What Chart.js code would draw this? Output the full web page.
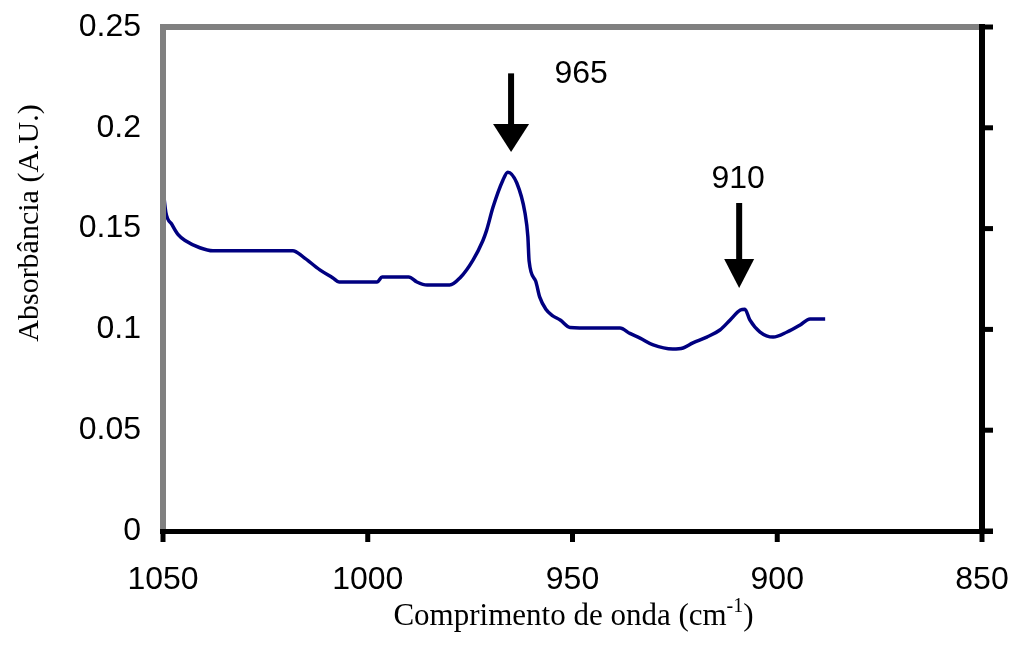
<!DOCTYPE html>
<html>
<head>
<meta charset="utf-8">
<script src="https://cdn.jsdelivr.net/npm/chart.js@4.4.1/dist/chart.umd.min.js"></script>
<style>
html,body{margin:0;padding:0;background:#fff;}
#wrap{width:1013px;height:650px;}
</style>
</head>
<body>
<div id="wrap"><canvas id="c" width="1013" height="650"></canvas></div>
<script>
// Wavenumber (cm-1) and absorbance
const wavenumbers = [1050, 1049.3, 1047.8, 1046.3, 1044.5, 1041, 1037.8, 1030, 1024, 1018.3, 1015.8, 1011.7, 1008.5, 1007, 1002, 997.7, 996.5, 990, 988, 985.5, 980, 977.5, 974.3, 971.9, 971, 969.4, 967, 965.8, 963.6, 961.6, 960.9, 960.6, 959, 958, 956.5, 955, 953, 950.6, 945, 938.4, 936, 933.5, 930.3, 925.5, 923, 920.6, 917.2, 914, 911.5, 909, 907.9, 906.7, 904.2, 901, 897.6, 894.4, 892, 888.3];
const absorbance = [0.170, 0.158, 0.152, 0.147, 0.144, 0.1405, 0.139, 0.139, 0.139, 0.139, 0.136, 0.1295, 0.1255, 0.1235, 0.1235, 0.1235, 0.126, 0.126, 0.1235, 0.122, 0.122, 0.1255, 0.1344, 0.144, 0.149, 0.1607, 0.174, 0.178, 0.1726, 0.1577, 0.146, 0.134, 0.124, 0.116, 0.110, 0.107, 0.1047, 0.101, 0.1007, 0.1007, 0.098, 0.0957, 0.0923, 0.0903, 0.0908, 0.0933, 0.0962, 0.0997, 0.1047, 0.1096, 0.110, 0.1047, 0.0987, 0.0962, 0.0987, 0.1022, 0.1052, 0.1052];
const xTicks = [1050, 1000, 950, 900, 850];
const yTicks = [0, 0.05, 0.1, 0.15, 0.2, 0.25];
const peakLabels = ['965', '910'];
const peakWavenumbers = [965, 909.3];
const peakArrowTop = [0.227, 0.1627];
const peakArrowTip = [0.188, 0.1205];
const xTitle = 'Comprimento de onda (cm';
const xTitleSup = '-1';
const yTitle = 'Absorbância (A.U.)';

const points = wavenumbers.map((w, i) => ({x: w, y: absorbance[i]}));

const decor = {
  id: 'decor',
  afterDraw(chart) {
    const {ctx, chartArea: a, scales: {x, y}} = chart;
    ctx.save();
    // frame
    ctx.fillStyle = '#808080';
    ctx.fillRect(a.left - 3, a.top - 3, 6, a.bottom - a.top + 3);
    ctx.fillRect(a.left - 3, a.top - 3, a.right - a.left + 3, 6);
    ctx.fillStyle = '#000';
    ctx.fillRect(a.right - 3, a.top - 3, 6, a.bottom - a.top + 6);
    ctx.fillRect(a.left - 3, a.bottom - 2, a.right - a.left + 14, 5);
    // right ticks
    yTicks.forEach(v => {
      const py = y.getPixelForValue(v);
      ctx.fillRect(a.right + 3, py - 2.5, 8, 5);
    });
    // bottom ticks
    xTicks.forEach(v => {
      const px = x.getPixelForValue(v);
      ctx.fillRect(px - 2.5, a.bottom + 3, 5, 8);
    });
    // arrows and labels
    ctx.font = '32px "Liberation Sans", Arial, sans-serif';
    ctx.textAlign = 'center';
    ctx.textBaseline = 'middle';
    peakLabels.forEach((lab, i) => {
      const px = x.getPixelForValue(peakWavenumbers[i]);
      const pt = y.getPixelForValue(peakArrowTop[i]);
      const pb = y.getPixelForValue(peakArrowTip[i]);
      const hw = i === 0 ? 18 : 15;
      const hh = i === 0 ? 28 : 29;
      ctx.fillRect(px - 3, pt, 6, pb - pt - hh + 2);
      ctx.beginPath();
      ctx.moveTo(px - hw, pb - hh);
      ctx.lineTo(px + hw, pb - hh);
      ctx.lineTo(px, pb);
      ctx.closePath();
      ctx.fill();
      if (i === 0) {
        ctx.fillText(lab, px + 70, pt + 1);
      } else {
        ctx.fillText(lab, px - 1, pt - 24);
      }
    });
    // axis titles
    const mainFont = '31px "Liberation Serif", "Times New Roman", serif';
    const supFont = '20px "Liberation Serif", "Times New Roman", serif';
    ctx.textBaseline = 'alphabetic';
    ctx.font = mainFont;
    const mainW = ctx.measureText(xTitle).width;
    const parW = ctx.measureText(')').width;
    ctx.font = supFont;
    const supW = ctx.measureText(xTitleSup).width;
    const total = mainW + supW + parW;
    const cx = (a.left + a.right) / 2 + 1;
    const sx = cx - total / 2;
    const base = 625;
    ctx.textAlign = 'left';
    ctx.font = mainFont;
    ctx.fillText(xTitle, sx, base);
    ctx.font = supFont;
    ctx.fillText(xTitleSup, sx + mainW, base - 13);
    ctx.font = mainFont;
    ctx.fillText(')', sx + mainW + supW, base);
    // y title
    ctx.translate(38, 223);
    ctx.rotate(-Math.PI / 2);
    ctx.textAlign = 'center';
    ctx.font = '30px "Liberation Serif", "Times New Roman", serif';
    ctx.fillText(yTitle, 0, 0);
    ctx.restore();
  }
};

new Chart(document.getElementById('c'), {
  type: 'line',
  data: {
    datasets: [{
      data: points,
      borderColor: '#000080',
      borderWidth: 3.5,
      pointRadius: 0,
      fill: false,
      cubicInterpolationMode: 'monotone'
    }]
  },
  options: {
    responsive: false,
    animation: false,
    layout: {padding: {left: 0, right: 31, top: 27, bottom: 0}},
    plugins: {legend: {display: false}, tooltip: {enabled: false}},
    scales: {
      x: {
        type: 'linear',
        reverse: true,
        min: 850,
        max: 1050,
        grid: {display: false},
        border: {display: false},
        afterBuildTicks: s => { s.ticks = xTicks.map(v => ({value: v})); },
        afterFit: s => { s.height = 119; s.paddingLeft = 0; s.paddingRight = 0; },
        ticks: {
          color: '#000',
          padding: 22,
          maxRotation: 0,
          autoSkip: false,
          font: {family: '"Liberation Sans", Arial, sans-serif', size: 32},
          callback: v => String(v)
        }
      },
      y: {
        type: 'linear',
        min: 0,
        max: 0.25,
        grid: {display: false},
        border: {display: false},
        afterBuildTicks: s => { s.ticks = yTicks.map(v => ({value: v})); },
        afterFit: s => { s.width = 163; s.paddingTop = 0; s.paddingBottom = 0; },
        ticks: {
          color: '#000',
          padding: 14,
          autoSkip: false,
          font: {family: '"Liberation Sans", Arial, sans-serif', size: 32},
          callback: v => String(v)
        }
      }
    }
  },
  plugins: [decor]
});
</script>
</body>
</html>
